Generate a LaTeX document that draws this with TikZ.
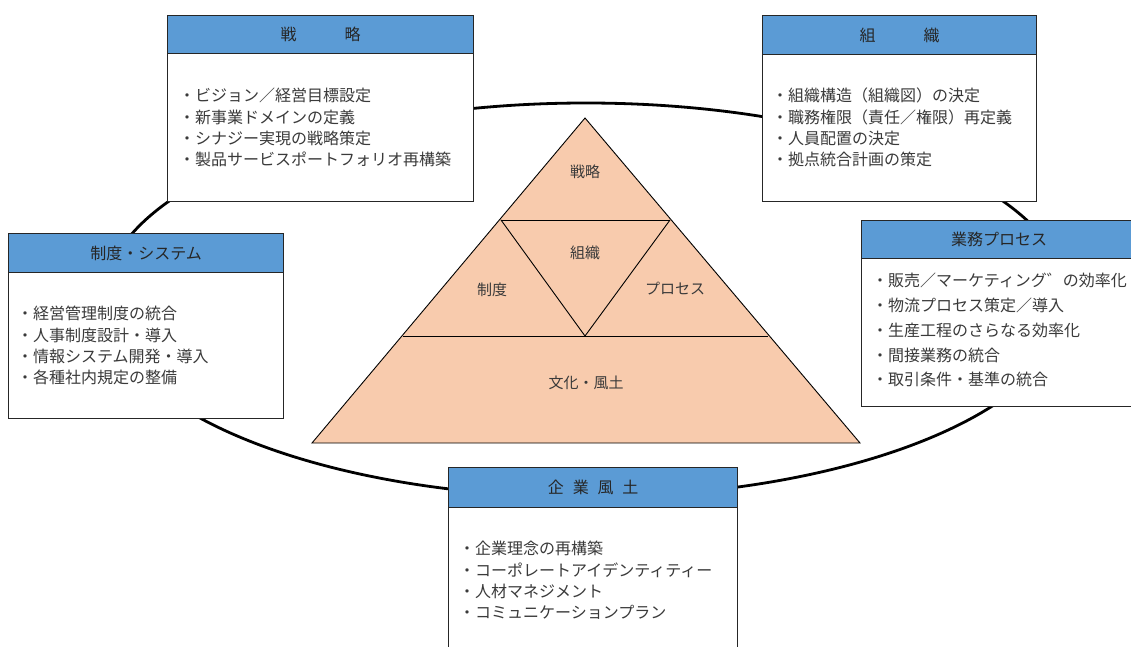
\documentclass[tikz,border=0pt]{standalone}
\usepackage{fontspec}
\newfontfamily\jp{Noto Sans CJK JP}
\definecolor{hdrblue}{HTML}{5B9BD5}
\definecolor{boxline}{HTML}{262626}
\definecolor{txtgray}{HTML}{3A3A3A}
\definecolor{pyrfill}{HTML}{F8CBAD}
\tikzset{
  ring/.style={line width=2.8pt, black},
  bodybox/.style={draw=boxline, line width=1.3pt, fill=white, inner sep=0pt, anchor=north west},
  hdrbox/.style={draw=boxline, line width=1.3pt, fill=hdrblue, inner sep=0pt, anchor=north west,
     font=\jp\fontsize{16pt}{18pt}\selectfont, text=black!85},
  bodytext/.style={font=\jp\fontsize{16pt}{21.3pt}\selectfont, text=txtgray, align=left,
     inner sep=0pt, anchor=north west},
  pyrtext/.style={font=\jp\fontsize{15pt}{17pt}\selectfont, text=txtgray, inner sep=0pt},
  pyrline/.style={draw=black, line width=0.9pt}
}
\begin{document}
\begin{tikzpicture}[x=1pt,y=-1pt]
\useasboundingbox (0,0) rectangle (1131,647);
% ring
\draw[ring] (586,300) ellipse [x radius=482pt, y radius=197pt];
% pyramid
\coordinate (apex) at (585,118);
\coordinate (bl) at (312,443);
\coordinate (br) at (860,443);
\coordinate (ml) at (501,220);
\coordinate (mr) at (670,220);
\coordinate (ll) at (403,336);
\coordinate (lr) at (768,336);
\coordinate (iv) at (585,336);
\fill[pyrfill] (apex) -- (br) -- (bl) -- cycle;
\draw[pyrline, line join=miter] (apex) -- (br) -- (bl) -- cycle;
\draw[pyrline] (ml) -- (mr);
\draw[pyrline] (ll) -- (lr);
\draw[pyrline] (ml) -- (iv) -- (mr);
\node[pyrtext] (p1) at (585,172) {戦略};
\node[pyrtext] (p2) at (585,253) {組織};
\node[pyrtext] (p3) at (492,290) {制度};
\node[pyrtext] (p4) at (675,289) {プロセス};
\node[pyrtext] (p5) at (586,383) {文化・風土};
% strategy box
\node[bodybox, minimum width=306pt, minimum height=186pt] (sb) at (167,15) {};
\node[hdrbox, minimum width=306pt, minimum height=38pt] (sh) at (167,15) {戦\hspace{3em}略};
\node[bodytext] (st) at (179,88) {・ビジョン／経営目標設定\\・新事業ドメインの定義\\・シナジー実現の戦略策定\\・製品サービスポートフォリオ再構築};
% organisation box
\node[bodybox, minimum width=274pt, minimum height=186pt] (ob) at (762,15) {};
\node[hdrbox, minimum width=274pt, minimum height=39pt] (oh) at (762,15) {組\hspace{3em}織};
\node[bodytext] (ot) at (772,88) {・組織構造（組織図）の決定\\・職務権限（責任／権限）再定義\\・人員配置の決定\\・拠点統合計画の策定};
% system box
\node[bodybox, minimum width=275pt, minimum height=185pt] (yb) at (8,233) {};
\node[hdrbox, minimum width=275pt, minimum height=39pt] (yh) at (8,233) {制度・システム};
\node[bodytext] (yt) at (17,306) {・経営管理制度の統合\\・人事制度設計・導入\\・情報システム開発・導入\\・各種社内規定の整備};
% process box
\node[bodybox, minimum width=275pt, minimum height=186pt] (pb) at (861,220) {};
\node[hdrbox, minimum width=275pt, minimum height=38pt] (ph) at (861,220) {業務プロセス};
\node[bodytext, font=\jp\fontsize{16pt}{24.8pt}\selectfont] (pt) at (872,273) {・販売／マーケティング゛の効率化\\・物流プロセス策定／導入\\・生産工程のさらなる効率化\\・間接業務の統合\\・取引条件・基準の統合};
% culture box
\node[bodybox, minimum width=289pt, minimum height=200pt] (cb) at (448,467) {};
\node[hdrbox, minimum width=289pt, minimum height=40pt] (ch) at (448,467) {企\hspace{0.55em}業\hspace{0.55em}風\hspace{0.55em}土};
\node[bodytext] (ct) at (459,541) {・企業理念の再構築\\・コーポレートアイデンティティー\\・人材マネジメント\\・コミュニケーションプラン};
\end{tikzpicture}
\end{document}
